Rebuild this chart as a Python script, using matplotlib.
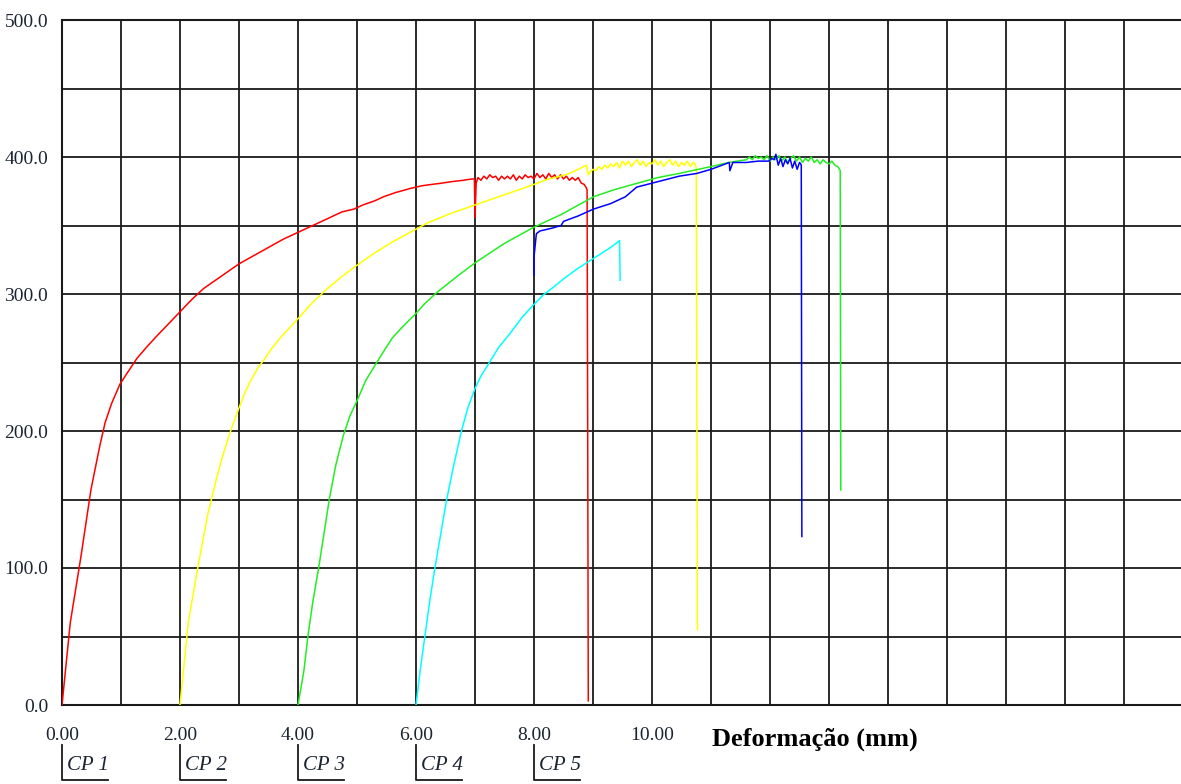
import numpy as np
import matplotlib
matplotlib.use("Agg")
import matplotlib.pyplot as plt
from matplotlib.transforms import blended_transform_factory

# ---------------- data ----------------
cp1_x = [0.0, 0.14, 0.32, 0.49, 0.56, 0.64, 0.73, 0.84, 0.98, 1.1, 1.27, 1.45, 1.6, 1.8,
         2.0, 2.2, 2.4, 2.7, 3.0, 3.25, 3.5, 3.75, 4.0, 4.2, 4.4, 4.6, 4.75, 4.95, 5.1,
         5.3, 5.45, 5.65, 5.9, 6.1, 6.27, 6.45, 6.6, 6.8, 6.95, 6.99, 7.0, 7.02,
         7.05, 7.1, 7.15, 7.2, 7.25, 7.3, 7.35, 7.4, 7.45, 7.5, 7.55, 7.6, 7.65, 7.7,
         7.75, 7.8, 7.85, 7.9, 7.95, 8.0, 8.05, 8.1, 8.15, 8.2, 8.25, 8.3, 8.35, 8.4,
         8.45, 8.5, 8.55, 8.6, 8.65, 8.7, 8.75, 8.8, 8.85, 8.88, 8.9, 8.91, 8.92]
cp1_y = [0, 60, 108, 157, 172, 189, 206, 220, 234, 242, 253, 262, 269, 278,
         287, 296, 304, 313, 322, 328, 334, 340, 345, 349, 353, 357, 360, 362, 365,
         368, 371, 374, 377, 379, 380, 381, 382, 383, 384, 384, 356, 381,
         385, 383, 386, 384, 387, 385, 386, 383, 386, 384, 386, 384, 387, 383,
         386, 384, 387, 385, 386, 384, 388, 385, 387, 384, 388, 385, 387, 384,
         387, 384, 386, 383, 385, 383, 385, 381, 380, 378, 376, 200, 3]

cp2_x = [2.0, 2.14, 2.3, 2.47, 2.6, 2.71, 2.85, 3.0, 3.1, 3.2, 3.32, 3.44, 3.57, 3.7,
         3.85, 4.0, 4.25, 4.5, 4.75, 5.0, 5.3, 5.6, 5.9, 6.2, 6.6, 7.0, 7.4, 7.67,
         8.0, 8.25, 8.45, 8.6, 8.75, 8.89, 8.92, 8.95, 9.0, 9.05, 9.1, 9.15, 9.2,
         9.25, 9.3, 9.35, 9.4, 9.45, 9.5, 9.55, 9.6, 9.65, 9.7, 9.75, 9.8, 9.85, 9.9,
         9.95, 10.0, 10.05, 10.1, 10.15, 10.2, 10.25, 10.3, 10.35, 10.4, 10.45, 10.5,
         10.55, 10.6, 10.65, 10.7, 10.73, 10.75, 10.77]
cp2_y = [0, 60, 100, 139, 162, 180, 199, 217, 228, 237, 246, 253, 261, 268,
         275, 282, 294, 304, 313, 321, 330, 338, 345, 352, 359, 365, 371, 375,
         380, 384, 386, 388, 391, 394, 387, 389, 391, 390, 393, 391, 394,
         392, 395, 393, 396, 392, 397, 394, 397, 393, 396, 398, 394, 397, 393,
         396, 395, 398, 394, 397, 393, 396, 398, 394, 397, 393, 396,
         394, 397, 393, 396, 395, 392, 55]

cp3_x = [4.0, 4.1, 4.17, 4.25, 4.35, 4.44, 4.53, 4.64, 4.77, 4.88, 5.01, 5.15, 5.32,
         5.45, 5.6, 5.75, 5.98, 6.15, 6.35, 6.7, 7.01, 7.5, 8.01, 8.46, 9.01, 9.35,
         9.68, 10.1, 10.46, 11.0, 11.3, 11.6, 11.65, 11.7, 11.75, 11.8, 11.85, 11.9,
         11.95, 12.0, 12.05, 12.1, 12.15, 12.2, 12.25, 12.3, 12.35, 12.4, 12.45,
         12.5, 12.55, 12.6, 12.65, 12.7, 12.75, 12.8, 12.85, 12.9, 12.95, 13.0,
         13.05, 13.1, 13.15, 13.18, 13.19, 13.2]
cp3_y = [0, 25, 51, 75, 100, 125, 150, 175, 197, 211, 223, 237, 249,
         258, 268, 275, 285, 293, 301, 313, 323, 337, 349, 358, 371, 376,
         380, 385, 388, 393, 396, 398, 400, 398, 401, 399, 400, 398,
         401, 397, 400, 398, 401, 397, 400, 396, 399, 401, 397,
         400, 396, 399, 397, 400, 396, 398, 395, 398, 396, 395,
         397, 394, 393, 391, 390, 157]

cp4_x = [6.0, 6.07, 6.15, 6.23, 6.32, 6.42, 6.52, 6.64, 6.77, 6.88, 7.0, 7.1, 7.23,
         7.4, 7.59, 7.8, 7.99, 8.15, 8.33, 8.5, 8.72, 8.9, 9.12, 9.3, 9.45, 9.46]
cp4_y = [0, 25, 50, 75, 100, 125, 150, 175, 200, 217, 231, 240, 249,
         261, 271, 283, 292, 299, 305, 311, 318, 323, 329, 334, 339, 310]

cp5_x = [8.0, 8.0, 8.04, 8.1, 8.3, 8.46, 8.5, 8.75, 9.01, 9.3, 9.55, 9.74, 10.1,
         10.46, 10.76, 11.0, 11.31, 11.32, 11.37, 11.6, 11.8, 11.98, 12.03, 12.07,
         12.1, 12.14, 12.18, 12.22, 12.26, 12.3, 12.34, 12.38, 12.42, 12.46, 12.5,
         12.52, 12.53, 12.54]
cp5_y = [314, 327, 344, 346, 348, 350, 353, 357, 362, 366, 371, 378, 382,
         386, 388, 391, 396, 390, 396, 396, 397, 397, 399, 398,
         402, 394, 399, 393, 398, 395, 399, 392, 397, 391, 396,
         395, 394, 123]

series_names = ["CP 1", "CP 2", "CP 3", "CP 4", "CP 5"]
series_offsets = [0.0, 2.0, 4.0, 6.0, 8.0]
series_colors = ["#ff0000", "#ffff00", "#22ee22", "#00ffff", "#0000ff"]

x_tick_values = [0, 2, 4, 6, 8, 10]
x_tick_labels = ["0.00", "2.00", "4.00", "6.00", "8.00", "10.00"]
y_tick_values = [0, 100, 200, 300, 400, 500]
y_tick_labels = ["0.0", "100.0", "200.0", "300.0", "400.0", "500.0"]
x_label = "Deformação (mm)"

# ---------------- figure ----------------
W, H = 1181, 784
fig = plt.figure(figsize=(W / 100, H / 100), dpi=100)
ax = fig.add_axes([62 / W, 1 - 705 / H, (W - 62) / W, (705 - 20) / H])
ax.set_xlim(0, (W - 62) / 59)
ax.set_ylim(0, 500)

serif = ["Liberation Serif", "DejaVu Serif"]
txtcol = "#1c2430"

ax.set_xticks(x_tick_values)
ax.set_xticklabels(x_tick_labels, family=serif, fontsize=14, color=txtcol)
ax.set_yticks(y_tick_values)
ax.set_yticklabels(y_tick_labels, family=serif, fontsize=14, color=txtcol)
ax.set_xticks(np.arange(0, 19, 1), minor=True)
ax.set_yticks(np.arange(0, 501, 50), minor=True)
ax.tick_params(which="both", length=0)
ax.tick_params(axis="x", pad=16)
ax.tick_params(axis="y", pad=10)
ax.grid(which="minor", color="#1a1a1a", linewidth=1.3)
ax.grid(which="major", color="#1a1a1a", linewidth=1.3)
ax.set_axisbelow(True)

for s in ["left", "bottom", "top"]:
    ax.spines[s].set_color("#1a1a1a")
    ax.spines[s].set_linewidth(1.5)
ax.spines["right"].set_visible(False)

curves = [(cp1_x, cp1_y), (cp2_x, cp2_y), (cp3_x, cp3_y), (cp4_x, cp4_y), (cp5_x, cp5_y)]
for (xs, ys), c in zip(curves, series_colors):
    ax.plot(xs, ys, color=c, linewidth=1.1, zorder=3)

# CP labels with bracket marks
trans = blended_transform_factory(ax.transData, fig.transFigure)
for name, off in zip(series_names, series_offsets):
    ax.plot([off, off, off + 0.78], [1 - 745 / H, 1 - 780 / H, 1 - 780 / H],
            transform=trans, color="#1a1a1a", linewidth=1.3, clip_on=False)
    ax.text(off + 0.085, 1 - 765 / H, name, transform=trans, family=serif,
            style="italic", fontsize=15, color=txtcol, ha="left", va="center")

fig.text(712 / W, 1 - 739 / H, x_label, family=serif, fontweight="bold",
         fontsize=19, color="black", ha="left", va="center")

fig.savefig("out.png", dpi=100, facecolor="white")
